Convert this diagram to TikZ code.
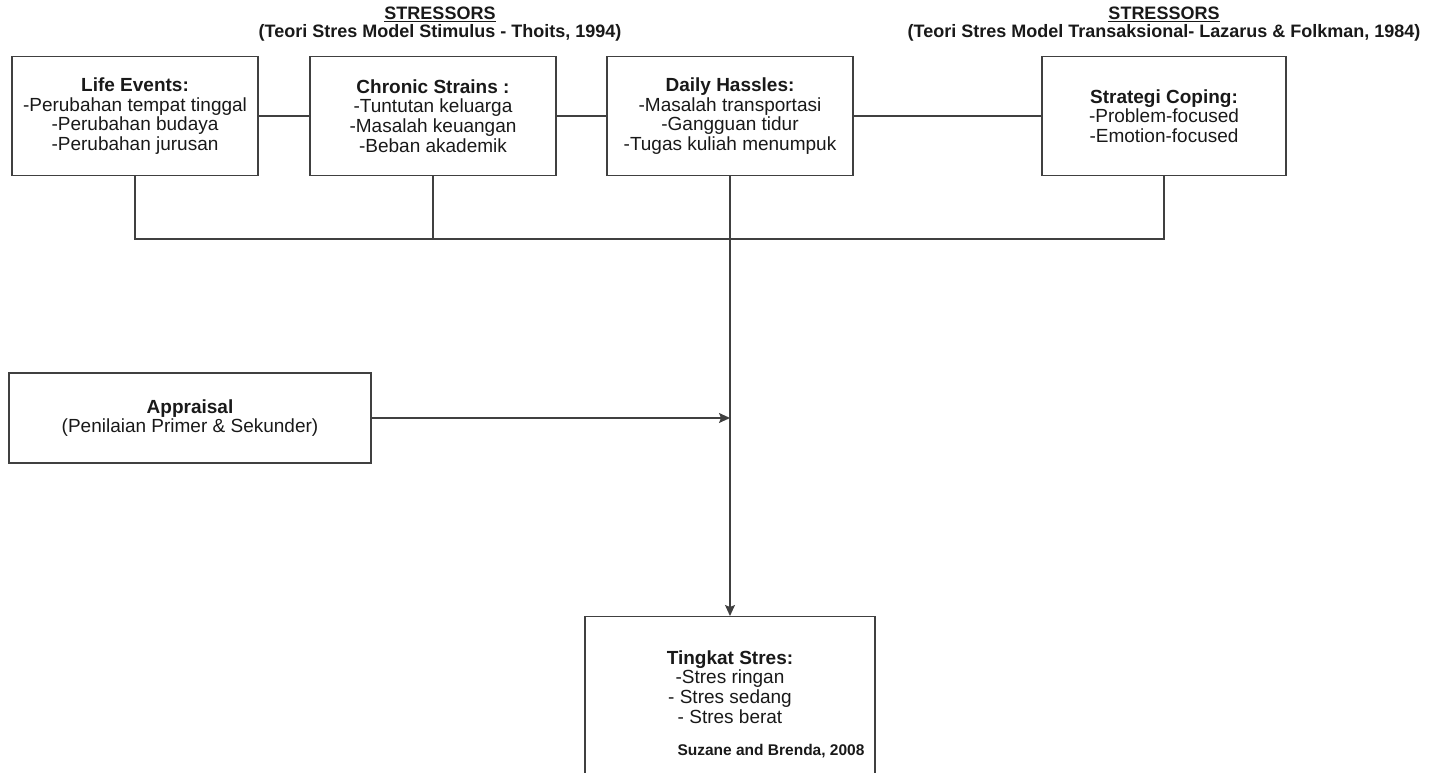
\documentclass[tikz,border=0pt]{standalone}
\usepackage{fontspec}
\setmainfont{Liberation Sans}
\usetikzlibrary{arrows.meta}

\tikzset{
  box/.style={draw=black!75, line width=1.3pt, minimum width=246pt, minimum height=119pt,
    align=center, inner sep=0pt, text=black!90, font=\fontsize{19}{19.7}\selectfont},
  txt/.style={align=center, inner sep=0pt, text=black!90, font=\fontsize{19}{19.7}\selectfont},
  title/.style={align=center, inner sep=0pt, text=black!90, font=\bfseries\fontsize{18}{18}\selectfont},
  cite/.style={inner sep=0pt, text=black!90, font=\bfseries\fontsize{15.5}{16}\selectfont},
  link/.style={draw=black!75, line width=1.3pt},
  tip/.style={-{Stealth[length=11pt,width=10pt,inset=2pt]}}
}

\begin{document}
\begin{tikzpicture}[x=1pt,y=-1pt]
\clip (0,0) rectangle (1433,773);
\node[title] (stimTitle) at (440,24) {\underline{STRESSORS}\\(Teori Stres Model Stimulus - Thoits, 1994)};
\node[title] (transTitle) at (1164,24) {\underline{STRESSORS}\\(Teori Stres Model Transaksional- Lazarus \& Folkman, 1984)};
\node[box] (life) at (135,116) {\textbf{Life Events:}\\-Perubahan tempat tinggal\\-Perubahan budaya\\-Perubahan jurusan};
\node[box] (chronic) at (433,116) {\textbf{Chronic Strains :}\\-Tuntutan keluarga\\-Masalah keuangan\\-Beban akademik};
\node[box] (daily) at (730,116) {\textbf{Daily Hassles:}\\-Masalah transportasi\\-Gangguan tidur\\-Tugas kuliah menumpuk};
\node[box, minimum width=244pt] (coping) at (1164,116) {\textbf{Strategi Coping:}\\-Problem-focused\\-Emotion-focused};
\node[box, minimum width=362pt, minimum height=90pt] (appraisal) at (190,418) {\textbf{Appraisal}\\(Penilaian Primer \& Sekunder)};
\node[box, anchor=north, minimum width=290pt, minimum height=170pt] (tingkat) at (730,616) {};
\node[txt] (tingkatTxt) at (730,687) {\textbf{Tingkat Stres:}\\-Stres ringan\\- Stres sedang\\- Stres berat};
\node[cite] (source) at (771,751) {Suzane and Brenda, 2008};
\coordinate (bus) at (0,239);
\coordinate (join) at (daily.south |- appraisal.east);
\foreach \a/\b in {life/chronic,chronic/daily,daily/coping}
  \draw[link] (\a) -- (\b);
\draw[link] (life.south) -- (life.south |- bus) -- (coping.south |- bus) -- (coping.south);
\draw[link] (chronic.south) -- (chronic.south |- bus);
\draw[link,tip] (daily.south) -- (tingkat.north);
\draw[link,tip] (appraisal.east) -- (join);
\end{tikzpicture}
\end{document}
